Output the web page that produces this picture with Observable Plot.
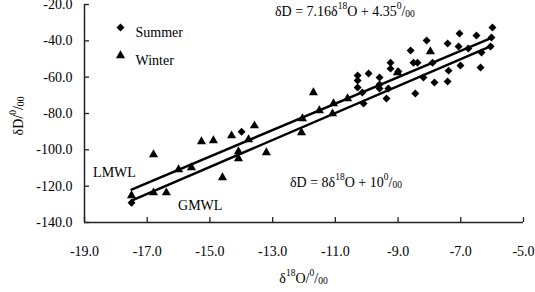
<!DOCTYPE html>
<html><head><meta charset="utf-8">
<script src="https://cdn.jsdelivr.net/npm/d3@7"></script>
<script src="https://cdn.jsdelivr.net/npm/@observablehq/plot@0.6"></script>
<style>body{margin:0;background:#fff}</style>
</head><body><div id="chart"></div>
<script>
// ---- data ----
const seriesNames = ["Summer", "Winter"];
const summerO = [-17.50,-13.99,-10.29,-10.29,-10.29,-9.94,-9.59,-9.59,-9.24,-9.24,-8.99,-9.31,-9.37,-10.10,-10.14,-8.60,-8.51,-8.38,-8.09,-7.90,-7.42,-7.04,-6.50,-5.99,-7.07,-6.76,-6.34,-6.05,-6.02,-7.39,-7.01,-6.37,-7.42,-7.84,-8.19,-8.45,-9.59];
const summerD = [-129.1,-90.0,-59.1,-61.9,-65.7,-58.0,-60.2,-64.1,-52.0,-55.3,-56.9,-66.3,-71.8,-74.5,-68.5,-45.3,-52.0,-52.0,-39.8,-52.0,-41.5,-36.0,-37.1,-32.7,-43.1,-44.2,-46.4,-43.1,-38.2,-56.4,-53.6,-54.7,-62.4,-63.0,-60.2,-69.0,-66.3];
const winterO = [-17.50,-16.80,-16.39,-16.80,-16.00,-15.59,-15.27,-14.89,-14.31,-14.09,-14.09,-13.77,-13.58,-13.20,-14.60,-12.08,-12.05,-11.70,-11.51,-11.06,-11.09,-10.61,-7.97,-9.02];
const winterD = [-125.2,-123.6,-123.6,-102.6,-110.9,-109.8,-95.5,-94.9,-92.2,-101.0,-104.8,-94.4,-86.7,-101.5,-115.3,-90.5,-82.8,-68.5,-78.4,-74.5,-80.1,-71.8,-45.9,-57.5];
const lmwlO = [-17.5, -6.0];
const lmwlD = [-121.9, -38.2];
const gmwlO = [-17.5, -6.0];
const gmwlD = [-128.0, -42.6];
const xTicks = [-19, -17, -15, -13, -11, -9, -7, -5];
const yTicks = [-140, -120, -100, -80, -60, -40, -20];
// annotation anchors (data coordinates) and rich-text parts
const eq1 = {o: -12.91, d: -23.9, parts: [["δD = 7.16δ","n"],["18","sup"],["O + 4.35","n"],["0","sup"],["/","n"],["00","sub"]]};
const eq2 = {o: -12.43, d: -118.1, parts: [["δD = 8δ","n"],["18","sup"],["O + 10","n"],["0","sup"],["/","n"],["00","sub"]]};
const lineLabels = [{o: -18.71, d: -112.6, text: "LMWL"}, {o: -16.00, d: -130.7, text: "GMWL"}];
const xTitle = [["δ","n"],["18","sup"],["O/","n"],["0","sup"],["/","n"],["00","sub"]];
const yTitle = [["δD/","n"],["0","sup"],["/","n"],["00","sub"]];

const summer = summerO.map((o, i) => ({o, d: summerD[i]}));
const winter = winterO.map((o, i) => ({o, d: winterD[i]}));
const lmwl = lmwlO.map((o, i) => ({o, d: lmwlD[i]}));
const gmwl = gmwlO.map((o, i) => ({o, d: gmwlD[i]}));

const FONT = "'Liberation Serif', 'DejaVu Serif', serif";
const W = 535, H = 292, mL = 84, mR = 12, mT = 4, mB = 70;
const fmt = d => d.toFixed(1);

const chart = Plot.plot({
  width: W, height: H,
  marginLeft: mL, marginRight: mR, marginTop: mT, marginBottom: mB,
  style: {fontFamily: FONT, fontSize: "14px", color: "#000", background: "#fff"},
  x: {domain: [-19, -5], ticks: xTicks, tickFormat: fmt, tickSize: 0, tickPadding: 24, label: null},
  y: {domain: [-140, -20], ticks: yTicks, tickFormat: fmt, tickSize: 0, tickPadding: 12, label: null},
  marks: [
    Plot.tickX(xTicks, {x: d => d, insetTop: H - mT - mB - 5, stroke: "#222", strokeWidth: 1.3}),
    Plot.tickY(yTicks, {y: d => d, insetRight: W - mL - mR - 5, stroke: "#222", strokeWidth: 1.3}),
    Plot.ruleX([-19], {stroke: "#222", strokeWidth: 1.5}),
    Plot.ruleY([-140], {stroke: "#222", strokeWidth: 1.5}),
    Plot.dot(summer, {x: "o", y: "d", symbol: d3.symbolDiamond2, r: 3.6, fill: "#000", stroke: "none"}),
    Plot.dot(winter, {x: "o", y: "d", symbol: d3.symbolTriangle, r: 3.4, fill: "#000", stroke: "none"}),
    Plot.line(lmwl, {x: "o", y: "d", stroke: "#000", strokeWidth: 2.5}),
    Plot.line(gmwl, {x: "o", y: "d", stroke: "#000", strokeWidth: 2.5}),
    Plot.dot([seriesNames[0]], {frameAnchor: "top-left", dx: 36, dy: 23, symbol: d3.symbolDiamond2, r: 3.6, fill: "#000", stroke: "none"}),
    Plot.dot([seriesNames[1]], {frameAnchor: "top-left", dx: 36, dy: 51, symbol: d3.symbolTriangle, r: 3.4, fill: "#000", stroke: "none"}),
    Plot.text([seriesNames[0]], {text: d => d, frameAnchor: "top-left", dx: 51, dy: 23, textAnchor: "start", fontSize: 14}),
    Plot.text([seriesNames[1]], {text: d => d, frameAnchor: "top-left", dx: 51, dy: 51, textAnchor: "start", fontSize: 14})
  ]
});
document.getElementById("chart").appendChild(chart);

const svg = d3.select(chart);
const sx = chart.scale("x"), sy = chart.scale("y");

function rich(x, y, parts, opts = {}) {
  const size = opts.size || 14;
  const g = svg.append("g").attr("transform", `translate(${x},${y})` + (opts.rotate ? " rotate(-90)" : ""));
  let cx = 0;
  const pieces = [];
  for (const [s, k] of parts) {
    const fs = k === "n" ? size : size * 0.68;
    const dy = (k === "sup" ? -5 : k === "sub" ? 3 : 0) * size / 14;
    const t = g.append("text")
      .attr("x", cx).attr("y", dy)
      .attr("font-family", FONT).attr("font-size", fs)
      .attr("text-anchor", "start")
      .attr("dominant-baseline", "central")
      .attr("fill", "#000").text(s);
    cx += t.node().getComputedTextLength();
    pieces.push(t);
  }
  if (opts.anchor === "middle") for (const t of pieces) t.attr("x", +t.attr("x") - cx / 2);
  return g;
}

rich(sx.apply(eq1.o), sy.apply(eq1.d), eq1.parts);
rich(sx.apply(eq2.o), sy.apply(eq2.d), eq2.parts);
for (const l of lineLabels) {
  svg.append("text").attr("x", sx.apply(l.o)).attr("y", sy.apply(l.d))
    .attr("font-family", FONT).attr("font-size", 14).attr("dominant-baseline", "central")
    .attr("text-anchor", "start").attr("fill", "#000").text(l.text);
}
rich((mL + W - mR) / 2, 278, xTitle, {anchor: "middle"});
rich(18, 116, yTitle, {anchor: "middle", rotate: true});
</script>
</body></html>
